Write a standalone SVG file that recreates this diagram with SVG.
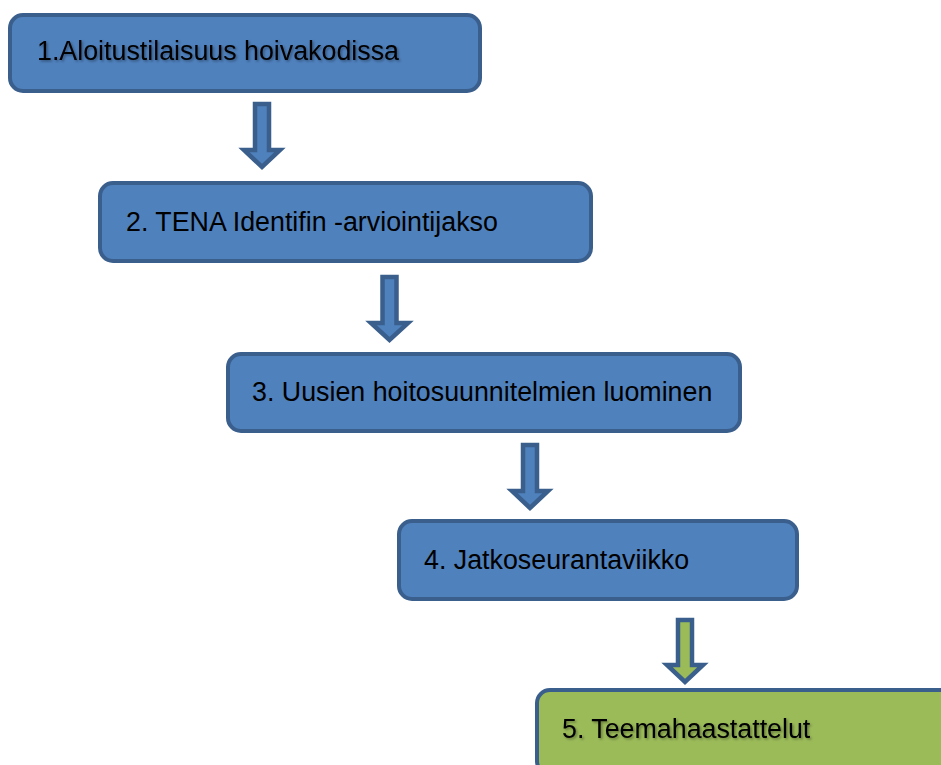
<svg xmlns="http://www.w3.org/2000/svg" width="941" height="765" viewBox="0 0 941 765">
<style>
.box{fill:#4f81bd;stroke:#3a5f8d;stroke-width:4}
.green{fill:#9bbb59}
.arr{fill:#4f81bd;stroke:#3a5f8d;stroke-width:4.5;stroke-linejoin:miter}
.arrg{fill:#9bbb59}
.t{font-family:"Liberation Sans",Arial,sans-serif;font-size:26.8px;fill:#000}
.sh{filter:url(#ts)}
</style>
<defs>
<filter id="ts" x="-5%" y="-30%" width="110%" height="160%">
<feDropShadow dx="1.5" dy="1.5" stdDeviation="1" flood-color="#000" flood-opacity="0.35"/>
</filter>
</defs>
<rect width="941" height="765" fill="#fff"/>
<g id="connectors">
<path class="arr" d="M255,104 H269 V150 H280 L262,167 L244,150 H255 Z"/>
<path class="arr" d="M382.5,277 H396.5 V323 H408 L389.5,340 L371,323 H382.5 Z"/>
<path class="arr" d="M523,445 H537 V491 H548 L530,508 L512,491 H523 Z"/>
<path class="arr arrg" d="M678,620 H692 V665 H703 L685,682 L667,665 H678 Z"/>
</g>
<g id="n1">
<rect class="box" x="10" y="15" width="470" height="76" rx="13"/>
<text class="t sh" x="37" y="60">1.Aloitustilaisuus hoivakodissa</text>
</g>
<g id="n2">
<rect class="box" x="100" y="183" width="491" height="78" rx="13"/>
<text class="t" x="126" y="231">2. TENA Identifin -arviointijakso</text>
</g>
<g id="n3">
<rect class="box" x="228" y="354" width="512" height="77" rx="13"/>
<text class="t" x="252" y="401">3. Uusien hoitosuunnitelmien luominen</text>
</g>
<g id="n4">
<rect class="box" x="399" y="521" width="398" height="78" rx="13"/>
<text class="t" x="424" y="569">4. Jatkoseurantaviikko</text>
</g>
<g id="n5">
<rect class="box green" x="537" y="690" width="420" height="84" rx="13"/>
<text class="t sh" x="562" y="738">5. Teemahaastattelut</text>
</g>
</svg>
